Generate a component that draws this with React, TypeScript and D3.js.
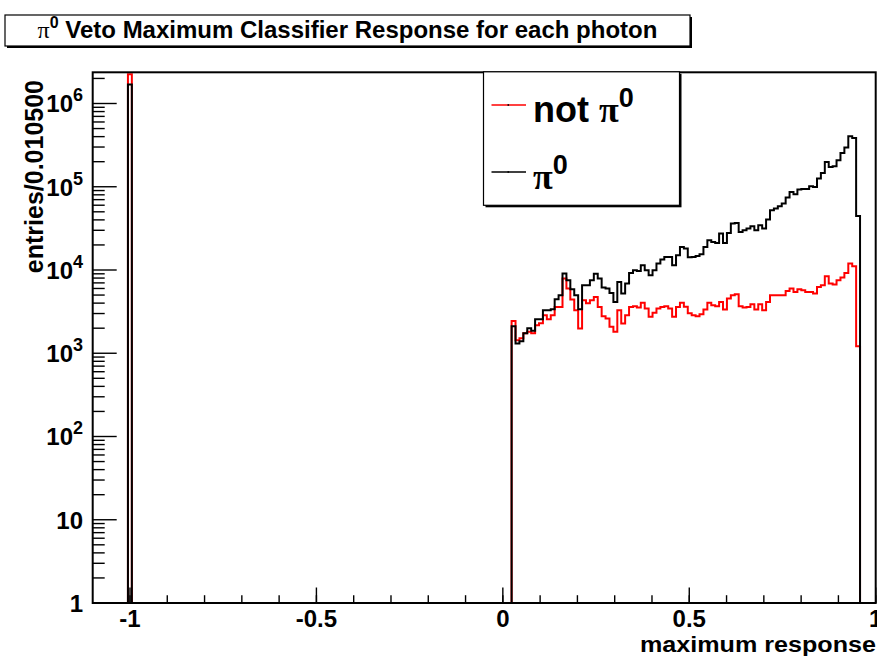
import React from "react";
import * as d3 from "d3";

const W = 877;
const H = 656;

// histogram binning
const xMin = -1.1;
const xMax = 1.0;
const binWidth = 0.0105;
const nBins = 200;
const yMin = 1;
const yMax = 2.37e6;

// spike bin around -1
const spikeBinLow = -1.0055;
const spikeNotPi0 = 2250000;
const spikePi0 = 1690000;

// contiguous band of filled bins, starting at this low edge
const bandStart = 0.0235;
const notPi0 = [
  2448, 1436, 1518, 1742, 1807, 1742, 2174, 2298, 2866, 2567, 2866, 3606, 3606,
  7910, 5995, 4425, 3290, 1985, 4338, 3995, 4338, 4755, 3606, 2788, 2618, 2075,
  1807, 3290, 2280, 2866, 3606, 3675, 3547, 4030, 3450, 2735, 3055, 3450, 3606,
  3675, 3450, 2735, 3606, 4030, 3620, 3030, 2866, 2788, 2946, 3355, 4030, 3780,
  3675, 4140, 3355, 4548, 4980, 5120, 3675, 3547, 3606, 3884, 3355, 3884, 3290,
  4140, 4980, 4980, 4980, 4980, 5610, 5995, 5460, 5890, 5725, 5460, 5460, 5225,
  6270, 6570, 8430, 6885, 6700, 7550, 8130, 9230, 11970, 11110, 1217,
];
const pi0 = [
  2115, 1311, 1397, 1742, 2001, 1858, 2567, 2567, 3290, 3290, 3383, 4460, 4980,
  9080, 7550, 5890, 4980, 3383, 6570, 6570, 7550, 9030, 7910, 6165, 5995, 5310,
  4140, 7200, 5225, 6885, 9230, 9950, 9750, 11420, 9950, 8660, 9950, 11970,
  13370, 14360, 14360, 11420, 15060, 18930, 18120, 14250, 14360, 14770, 15480,
  18930, 22790, 21740, 21140, 27420, 21140, 27880, 36150, 36760, 28660, 30060,
  31500, 33560, 30060, 34500, 31500, 40390, 52240, 54730, 58340, 62850, 74150,
  86650, 81280, 92550, 94140, 94140, 101400, 99500, 125400, 146500, 198600,
  172900, 176200, 208000, 254600, 295800, 403600, 385500, 44610,
];

const xMajorTicks = [-1, -0.5, 0, 0.5, 1];
const xTickLabels = ["-1", "-0.5", "0", "0.5", "1"];
const xMinorStep = 0.1;
const yMajorTicks = [1, 10, 100, 1000, 10000, 100000, 1000000];
const yTickBase = ["1", "10", "10", "10", "10", "10", "10"];
const yTickExp = ["", "", "2", "3", "4", "5", "6"];

const titleText = "Veto Maximum Classifier Response for each photon";
const xTitle = "maximum response";
const yTitle = "entries/0.010500";
const legendLabels = ["not ", ""];
const legendColors = ["#ff0000", "#000000"];

const SANS = "'Liberation Sans', Arial, Helvetica, sans-serif";
const SERIF = "'Liberation Serif', 'Times New Roman', serif";

const frame = { left: 92.7, right: 875.7, top: 72.3, bottom: 603 };

function buildCounts(spikeVal: number, band: number[]): number[] {
  const c = new Array(nBins).fill(0);
  const si = Math.round((spikeBinLow - xMin) / binWidth);
  c[si] = spikeVal;
  const bi = Math.round((bandStart - xMin) / binWidth);
  band.forEach((v, i) => (c[bi + i] = v));
  return c;
}

export default function App() {
  const x = d3.scaleLinear().domain([xMin, xMax]).range([frame.left, frame.right]);
  const y = d3.scaleLog().domain([yMin, yMax]).range([frame.bottom, frame.top]);

  const stepPath = (counts: number[]) => {
    const pts: [number, number][] = [];
    counts.forEach((v, i) => {
      const lo = xMin + i * binWidth;
      const hi = lo + binWidth;
      const vv = Math.max(v, yMin);
      pts.push([lo, vv], [hi, vv]);
    });
    return d3
      .line<[number, number]>()
      .x((d) => x(d[0]))
      .y((d) => y(d[1]))(pts) as string;
  };

  const redPath = stepPath(buildCounts(spikeNotPi0, notPi0));
  const blackPath = stepPath(buildCounts(spikePi0, pi0));

  const xMinor = d3.range(-1, 1.0001, xMinorStep).map((v) => +v.toFixed(2));
  const yMinor: number[] = [];
  for (let d = 0; d <= 6; d++) {
    for (let m = 2; m <= 9; m++) {
      const v = m * Math.pow(10, d);
      if (v <= yMax) yMinor.push(v);
    }
  }

  const majorLenX = 15.5;
  const minorLenX = 7.8;
  const majorLenY = 24;
  const minorLenY = 12;

  const legend = { x: 483.5, y: 71.8, w: 196, h: 133.5 };

  return (
    <svg
      width={W}
      height={H}
      style={{ position: "absolute", left: 0, top: 0, background: "#fff" }}
      fontFamily={SANS}
    >
      <rect x={0} y={0} width={W} height={H} fill="#fff" />
      {/* title box */}
      <rect x={7} y={17} width={685} height={31} fill="#000" />
      <rect x={5} y={15} width={685} height={31} fill="#fff" stroke="#000" strokeWidth={1.2} />
      <text x={347.5} y={37.5} textAnchor="middle" fontWeight="bold" fontSize={24}>
        <tspan fontFamily={SERIF} fontWeight="normal">π</tspan>
        <tspan fontSize={16} dy={-10}>0</tspan>
        <tspan dy={10}>{" " + titleText}</tspan>
      </text>

      {/* histograms */}
      <defs>
        <clipPath id="frameClip">
          <rect x={frame.left} y={frame.top - 2} width={frame.right - frame.left} height={frame.bottom - frame.top + 2} />
        </clipPath>
      </defs>
      <g clipPath="url(#frameClip)">
        <path d={redPath} fill="none" stroke="#ff0000" strokeWidth={2} />
        <path d={blackPath} fill="none" stroke="#000" strokeWidth={2} />
      </g>

      {/* frame */}
      <rect
        x={frame.left}
        y={frame.top}
        width={frame.right - frame.left}
        height={frame.bottom - frame.top}
        fill="none"
        stroke="#000"
        strokeWidth={2}
      />

      {/* x ticks */}
      {xMinor.map((v) => (
        <line key={"xm" + v} x1={x(v)} x2={x(v)} y1={frame.bottom} y2={frame.bottom - minorLenX} stroke="#000" strokeWidth={1.4} />
      ))}
      {xMajorTicks.map((v, i) => (
        <g key={"xM" + v}>
          <line x1={x(v)} x2={x(v)} y1={frame.bottom} y2={frame.bottom - majorLenX} stroke="#000" strokeWidth={1.4} />
          <text x={x(v)} y={627} textAnchor="middle" fontWeight="bold" fontSize={24}>
            {xTickLabels[i]}
          </text>
        </g>
      ))}
      <text x={876} y={652} textAnchor="end" fontWeight="bold" fontSize={22} textLength={236} lengthAdjust="spacingAndGlyphs">
        {xTitle}
      </text>

      {/* y ticks */}
      {yMinor.map((v) => (
        <line key={"ym" + v} x1={frame.left} x2={frame.left + minorLenY} y1={y(v)} y2={y(v)} stroke="#000" strokeWidth={1.4} />
      ))}
      {yMajorTicks.map((v, i) => (
        <g key={"yM" + v}>
          <line x1={frame.left} x2={frame.left + majorLenY} y1={y(v)} y2={y(v)} stroke="#000" strokeWidth={1.4} />
          <text x={83} y={y(v) + 9} textAnchor="end" fontWeight="bold" fontSize={24}>
            {yTickBase[i]}
            {yTickExp[i] ? (
              <tspan fontSize={18} dy={-11}>
                {yTickExp[i]}
              </tspan>
            ) : null}
          </text>
        </g>
      ))}
      <text
        transform={`translate(43,80) rotate(-90)`}
        textAnchor="end"
        fontWeight="bold"
        fontSize={25}
      >
        {yTitle}
      </text>

      {/* legend */}
      <rect x={legend.x + 2} y={legend.y + 2} width={legend.w} height={legend.h} fill="#000" />
      <rect x={legend.x} y={legend.y} width={legend.w} height={legend.h} fill="#fff" stroke="#000" strokeWidth={1.2} />
      {legendColors.map((c, i) => {
        const ly = i === 0 ? 105 : 172;
        const ty = i === 0 ? 122 : 189;
        return (
          <g key={"lg" + i}>
            <line x1={491.5} x2={526} y1={ly} y2={ly} stroke={c} strokeWidth={1.5} />
            <rect x={507.5} y={ly - 0.8} width={1.6} height={1.6} fill="#000" />
            <text x={533} y={ty} fontWeight="bold" fontSize={36}>
              {legendLabels[i]}
              <tspan fontFamily={SERIF} fontWeight="bold">π</tspan>
              <tspan fontSize={27} dy={-15}>0</tspan>
            </text>
          </g>
        );
      })}
    </svg>
  );
}
